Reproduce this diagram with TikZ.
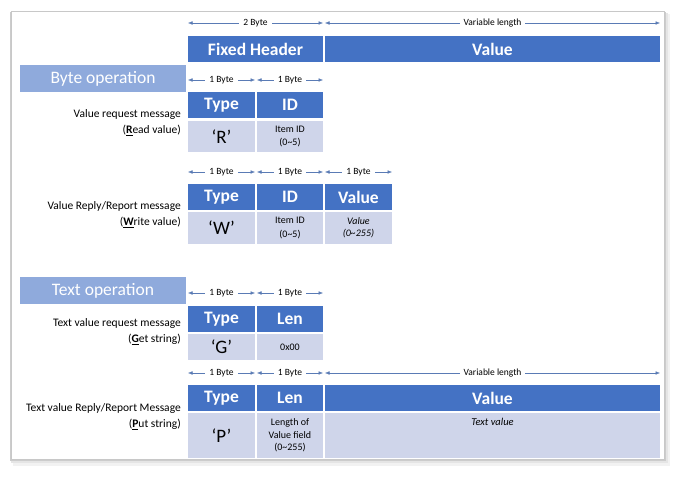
\documentclass[tikz,border=0pt]{standalone}
\usepackage{fontspec}
\setmainfont{Carlito}
\usetikzlibrary{arrows.meta}
\definecolor{hdrblue}{HTML}{4472C4}
\definecolor{cellblue}{HTML}{CFD5EA}
\definecolor{secblue}{HTML}{8FAADC}
\definecolor{arrcol}{HTML}{5A7BB5}
\definecolor{framegray}{HTML}{C8C8C8}
\tikzset{
  hdr/.style={fill=hdrblue, text=white, font=\bfseries\fontsize{17.5}{19}\selectfont, inner sep=0pt, anchor=center},
  datacell/.style={fill=cellblue, text=black, inner sep=0pt, anchor=center, align=center},
  bigchar/.style={font=\fontsize{19}{21}\selectfont},
  smalltxt/.style={font=\fontsize{10}{13.5}\selectfont},
  sec/.style={fill=secblue, text=white, font=\fontsize{17.5}{19}\selectfont, inner sep=0pt},
  msg/.style={font=\fontsize{11.5}{16}\selectfont, align=right, anchor=east, inner sep=0pt},
  dim/.style={draw=arrcol, line width=0.5pt, {Latex[length=4.5pt,width=3.6pt]}-{Latex[length=4.5pt,width=3.6pt]}},
  dimlab/.style={fill=white, font=\fontsize{9.5}{11}\selectfont, inner xsep=4pt, inner ysep=1pt}
}
\begin{document}
\begin{tikzpicture}[x=1pt,y=-1pt]
\useasboundingbox (0,0) rectangle (680,478);
% card with shadow
\fill[black!5] (13,14) rectangle (670,466);
\fill[black!10] (11,13) rectangle (668,463);
\fill[black!20] (10,12) rectangle (666,461);
\filldraw[fill=white, draw=framegray, line width=0.4pt] (11,11) rectangle (664,459);

% ---- top header row
\coordinate (t1) at (188,23); \coordinate (t2) at (323,23); \coordinate (t3) at (325,23); \coordinate (t4) at (660,23);
\draw[dim] (t1) -- (t2) node[midway, dimlab] {2 Byte};
\draw[dim] (t3) -- (t4) node[midway, dimlab] {Variable length};
\node[hdr, minimum width=135pt, minimum height=26pt] (fh) at (255.5,49) {Fixed Header};
\node[hdr, minimum width=335pt, minimum height=26pt] (fv) at (492.5,49) {Value};

% ---- Byte operation
\node[sec, minimum width=166pt, minimum height=27pt] (bop) at (103,78.5) {Byte operation};
\coordinate (a1) at (188,80); \coordinate (a2) at (255,80); \coordinate (a3) at (257,80); \coordinate (a4) at (323,80);
\draw[dim] (a1) -- (a2) node[midway, dimlab] {1 Byte};
\draw[dim] (a3) -- (a4) node[midway, dimlab] {1 Byte};
\node[hdr, minimum width=67pt, minimum height=26pt] (r1h1) at (221.5,105) {Type};
\node[hdr, minimum width=66pt, minimum height=26pt] (r1h2) at (290,105) {ID};
\node[datacell, bigchar, minimum width=67pt, minimum height=31pt] (r1d1) at (221.5,136.5) {‘R’};
\node[datacell, smalltxt, minimum width=66pt, minimum height=31pt] (r1d2) at (290,136.5) {Item ID\\(0\textasciitilde5)};
\node[msg] (m1) at (181,122.5) {Value request message\\(\underline{\textbf{R}}ead value)};

\coordinate (b1) at (188,172); \coordinate (b2) at (255,172); \coordinate (b3) at (257,172); \coordinate (b4) at (323,172); \coordinate (b5) at (325,172); \coordinate (b6) at (392,172);
\draw[dim] (b1) -- (b2) node[midway, dimlab] {1 Byte};
\draw[dim] (b3) -- (b4) node[midway, dimlab] {1 Byte};
\draw[dim] (b5) -- (b6) node[midway, dimlab] {1 Byte};
\node[hdr, minimum width=67pt, minimum height=26pt] (r2h1) at (221.5,197) {Type};
\node[hdr, minimum width=66pt, minimum height=26pt] (r2h2) at (290,197) {ID};
\node[hdr, minimum width=67pt, minimum height=26pt] (r2h3) at (358.5,197) {Value};
\node[datacell, bigchar, minimum width=67pt, minimum height=32pt] (r2d1) at (221.5,228) {‘W’};
\node[datacell, smalltxt, minimum width=66pt, minimum height=32pt] (r2d2) at (290,228) {Item ID\\(0\textasciitilde5)};
\node[datacell, smalltxt, minimum width=67pt, minimum height=32pt, font=\itshape] (r2d3) at (358.5,228) {Value\\(0\textasciitilde255)};
\node[msg] (m2) at (181,215) {Value Reply/Report message\\(\underline{\textbf{W}}rite value)};

% ---- Text operation
\node[sec, minimum width=166pt, minimum height=27pt] (top) at (103,290.5) {Text operation};
\coordinate (c1) at (188,293); \coordinate (c2) at (255,293); \coordinate (c3) at (257,293); \coordinate (c4) at (323,293);
\draw[dim] (c1) -- (c2) node[midway, dimlab] {1 Byte};
\draw[dim] (c3) -- (c4) node[midway, dimlab] {1 Byte};
\node[hdr, minimum width=67pt, minimum height=26pt] (r3h1) at (221.5,319) {Type};
\node[hdr, minimum width=66pt, minimum height=26pt] (r3h2) at (290,319) {Len};
\node[datacell, bigchar, minimum width=67pt, minimum height=26pt] (r3d1) at (221.5,347) {‘G’};
\node[datacell, smalltxt, minimum width=66pt, minimum height=26pt] (r3d2) at (290,347) {0x00};
\node[msg] (m3) at (181,332) {Text value request message\\(\underline{\textbf{G}}et string)};

\coordinate (d1) at (188,373); \coordinate (d2) at (255,373); \coordinate (d3) at (257,373); \coordinate (d4) at (323,373); \coordinate (d5) at (325,373); \coordinate (d6) at (660,373);
\draw[dim] (d1) -- (d2) node[midway, dimlab] {1 Byte};
\draw[dim] (d3) -- (d4) node[midway, dimlab] {1 Byte};
\draw[dim] (d5) -- (d6) node[midway, dimlab] {Variable length};
\node[hdr, minimum width=67pt, minimum height=26pt] (r4h1) at (221.5,398) {Type};
\node[hdr, minimum width=66pt, minimum height=26pt] (r4h2) at (290,398) {Len};
\node[hdr, minimum width=335pt, minimum height=26pt] (r4h3) at (492.5,398) {Value};
\node[datacell, bigchar, minimum width=67pt, minimum height=45pt] (r4d1) at (221.5,435.5) {‘P’};
\node[datacell, font=\fontsize{10}{12.5}\selectfont, minimum width=66pt, minimum height=45pt] (r4d2) at (290,435.5) {Length of\\Value field\\(0\textasciitilde255)};
\node[datacell, minimum width=335pt, minimum height=45pt] (r4d3) at (492.5,435.5) {};
\node[font=\fontsize{10.5}{12}\selectfont\itshape, inner sep=0pt] (tv) at (492.5,422) {Text value};
\node[msg] (m4) at (181,417) {Text value Reply/Report Message\\(\underline{\textbf{P}}ut string)};
\end{tikzpicture}
\end{document}
